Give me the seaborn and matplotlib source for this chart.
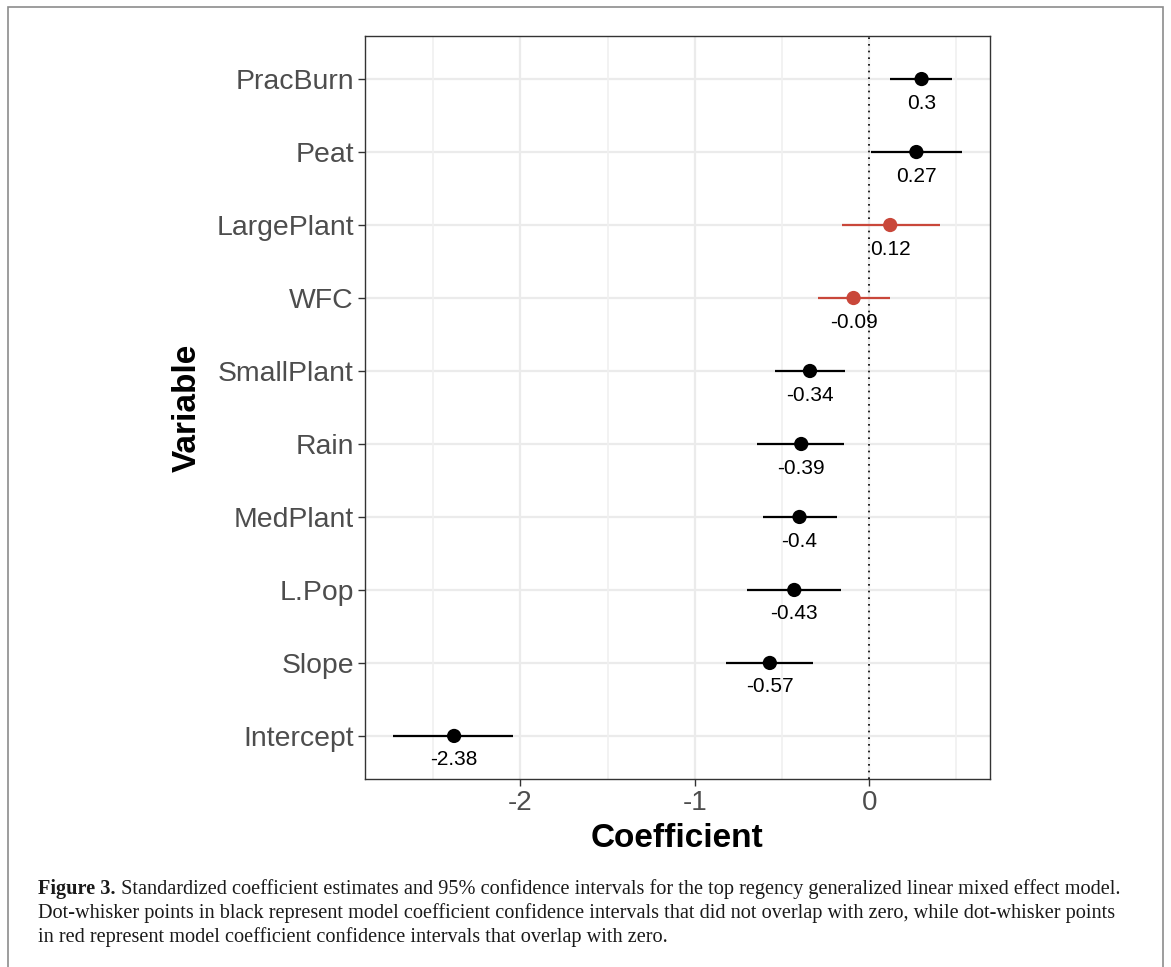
import numpy as np
import pandas as pd
import matplotlib
matplotlib.use("Agg")
import matplotlib.pyplot as plt
import seaborn as sns
from matplotlib.patches import Rectangle

sns.set_theme(style="white")
plt.rcParams['font.family'] = ['Liberation Sans', 'DejaVu Sans']
plt.rcParams['axes.unicode_minus'] = False

# coefficient estimates and 95% CI, top to bottom
variables = ["PracBurn", "Peat", "LargePlant", "WFC", "SmallPlant",
             "Rain", "MedPlant", "L.Pop", "Slope", "Intercept"]
estimates = [0.30, 0.27, 0.12, -0.09, -0.34, -0.39, -0.40, -0.43, -0.57, -2.38]
lower = [0.117, 0.012, -0.154, -0.295, -0.538, -0.646, -0.608, -0.702, -0.819, -2.728]
upper = [0.477, 0.529, 0.405, 0.119, -0.138, -0.143, -0.187, -0.164, -0.323, -2.042]
x_ticks = [-2, -1, 0]

caption_bold = "Figure 3."
caption_lines = [
    " Standardized coefficient estimates and 95% confidence intervals for the top regency generalized linear mixed effect model.",
    "Dot-whisker points in black represent model coefficient confidence intervals that did not overlap with zero, while dot-whisker points",
    "in red represent model coefficient confidence intervals that overlap with zero.",
]

df = pd.DataFrame({"variable": variables, "estimate": estimates,
                   "lower": lower, "upper": upper})
df["pos"] = np.arange(len(df))[::-1]
df["overlap"] = np.where((df["lower"] < 0) & (df["upper"] > 0), "yes", "no")
colors = {"no": "black", "yes": "#C9473A"}

fig = plt.figure(figsize=(11.71, 9.67), dpi=100)
ax = fig.add_axes([0.3117, 0.1944, 0.5337, 0.7684])

# grid like theme_bw
for y in df["pos"]:
    ax.axhline(y, color="#EBEBEB", lw=1.6, zorder=0)
for x in x_ticks:
    ax.axvline(x, color="#EBEBEB", lw=1.6, zorder=0)
for x in [-2.5, -1.5, -0.5, 0.5]:
    ax.axvline(x, color="#F0F0F0", lw=1.2, zorder=0)

ax.axvline(0, color="black", lw=1.2, ls=(0, (1, 3)), zorder=1)

ax.hlines(df["pos"], df["lower"], df["upper"],
          colors=df["overlap"].map(colors), lw=1.6, zorder=2)
sns.scatterplot(data=df, x="estimate", y="pos", hue="overlap", palette=colors,
                s=105, edgecolor="none", legend=False, zorder=3, ax=ax)

for _, r in df.iterrows():
    ax.annotate(f"{r['estimate']:g}", (r["estimate"], r["pos"]),
                xytext=(0, -17.3), textcoords="offset points",
                ha="center", va="center", fontsize=15, color="black")

rng = max(upper) - min(lower)
ax.set_xlim(min(lower) - 0.05 * rng, max(upper) + 0.05 * rng)
ax.set_ylim(-0.59, len(df) - 1 + 0.59)
ax.set_xticks(x_ticks)
ax.set_yticks(df["pos"])
ax.set_yticklabels(df["variable"])
ax.tick_params(axis="both", length=5, width=1, color="#333333",
               labelsize=20.4, labelcolor="#4D4D4D", pad=3, left=True, bottom=True)
ax.tick_params(axis="x", labelsize=20)
for s in ax.spines.values():
    s.set_color("#333333")
    s.set_linewidth(1)

ax.set_xlabel("Coefficient", fontsize=24, fontweight="bold", color="black", labelpad=5)
ax.set_ylabel("Variable", fontsize=24, fontweight="bold", color="black", labelpad=10)

# outer frame (open at the bottom edge of the image) and caption
fig.patches.append(Rectangle((8 / 1171, -0.02), 1155 / 1171, 1.02 - 7 / 967,
                             transform=fig.transFigure, fill=False,
                             edgecolor="#8C8C8C", lw=1.2))

cap_kw = dict(family="Liberation Serif", fontsize=14.6, color="#1A1A1A", va="center")
t = fig.text(38 / 1171, 1 - 889 / 967, caption_bold, fontweight="bold", **cap_kw)
fig.canvas.draw()
bb = t.get_window_extent().transformed(fig.transFigure.inverted())
fig.text(bb.x1, 1 - 889 / 967, caption_lines[0], **cap_kw)
fig.text(38 / 1171, 1 - 913 / 967, caption_lines[1], **cap_kw)
fig.text(38 / 1171, 1 - 937 / 967, caption_lines[2], **cap_kw)

fig.savefig("out.png", dpi=100)
